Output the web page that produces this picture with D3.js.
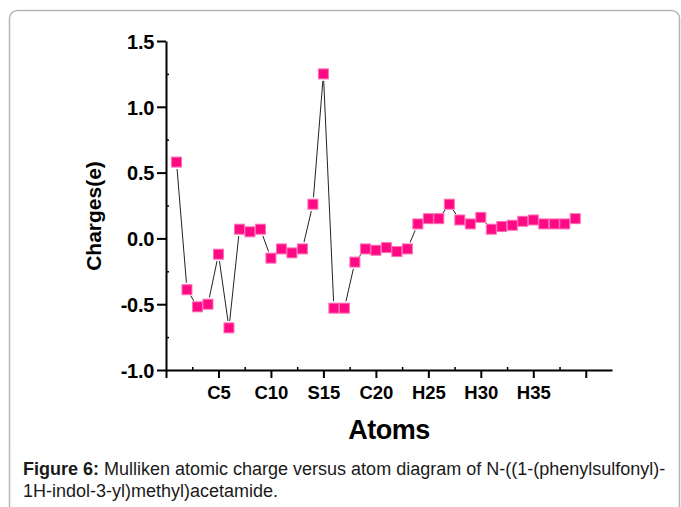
<!DOCTYPE html>
<html>
<head>
<meta charset="utf-8">
<script src="https://cdn.jsdelivr.net/npm/d3@7"></script>
<style>
  html, body { margin: 0; padding: 0; background: #fff; }
  svg { display: block; }
  text { font-family: "Liberation Sans", Arial, Helvetica, sans-serif; }
</style>
</head>
<body>
<svg id="chart" width="681" height="507"></svg>
<script>
// ---- data ----
const atomNumbers = [1,2,3,4,5,6,7,8,9,10,11,12,13,14,15,16,17,18,19,20,
                     21,22,23,24,25,26,27,28,29,30,31,32,33,34,35,36,37,38,39];
const charges = [0.58,-0.39,-0.52,-0.50,-0.12,-0.68,0.07,0.05,0.07,-0.15,
                 -0.08,-0.11,-0.08,0.26,1.25,-0.53,-0.53,-0.18,-0.08,-0.09,
                 -0.07,-0.10,-0.08,0.11,0.15,0.15,0.26,0.14,0.11,0.16,
                 0.07,0.09,0.10,0.13,0.14,0.11,0.11,0.11,0.15];
const xTickValues = [0,5,10,15,20,25,30,35,40];
const xTickLabels = ["","C5","C10","S15","C20","H25","H30","H35",""];
const xMinorValues = [2.5,7.5,12.5,17.5,22.5,27.5,32.5,37.5];
const yTickValues = [-1.0,-0.5,0.0,0.5,1.0,1.5];
const yTickLabels = ["-1.0","-0.5","0.0","0.5","1.0","1.5"];
const yMinorValues = [-0.75,-0.25,0.25,0.75,1.25];
const xTitle = "Atoms";
const yTitle = "Charges(e)";
const captionBold = "Figure 6:";
const captionLine1 = " Mulliken atomic charge versus atom diagram of N-((1-(phenylsulfonyl)-";
const captionLine2 = "1H-indol-3-yl)methyl)acetamide.";

// ---- layout ----
const svg = d3.select("#chart");
svg.append("rect").attr("width", 681).attr("height", 507).attr("fill", "#fff");

// frame with rounded top-left corner
svg.append("rect")
  .attr("x", 9.5).attr("y", 10.5).attr("width", 670).attr("height", 520)
  .attr("rx", 8).attr("ry", 8)
  .attr("fill", "none").attr("stroke", "#b4b4b4").attr("stroke-width", 1.5);

const x = d3.scaleLinear().domain([0, 42.5]).range([166, 612]);
const y = d3.scaleLinear().domain([-1.0, 1.5]).range([370, 41]);

// ---- axes ----
const xAxisG = svg.append("g").attr("transform", `translate(0,${y(-1.0)})`);
xAxisG.call(d3.axisBottom(x).tickValues(xTickValues).tickSize(8).tickSizeOuter(0)
  .tickFormat((d, i) => xTickLabels[i]));
xAxisG.select(".domain").attr("stroke", "#000").attr("stroke-width", 2);
xAxisG.selectAll(".tick line").attr("stroke", "#000").attr("stroke-width", 2);
xAxisG.selectAll(".tick text")
  .attr("y", 29).attr("dy", 0)
  .attr("fill", "#000")
  .style("font-size", "18.5px").style("font-weight", "bold")
  .style("font-family", "'Liberation Sans', Arial, sans-serif");

const xMinorG = svg.append("g").attr("transform", `translate(0,${y(-1.0)})`);
xMinorG.call(d3.axisBottom(x).tickValues(xMinorValues).tickSize(-3).tickFormat(""));
xMinorG.select(".domain").remove();
xMinorG.selectAll(".tick line").attr("stroke", "#000").attr("stroke-width", 1.5);

const yAxisG = svg.append("g").attr("transform", `translate(${x(0)},0)`);
yAxisG.call(d3.axisLeft(y).tickValues(yTickValues).tickSize(9).tickSizeOuter(0)
  .tickFormat((d, i) => yTickLabels[i]));
yAxisG.select(".domain").attr("stroke", "#000").attr("stroke-width", 2);
yAxisG.selectAll(".tick line").attr("stroke", "#000").attr("stroke-width", 2);
yAxisG.selectAll(".tick text")
  .attr("x", -12).attr("dy", "0.36em")
  .attr("fill", "#000")
  .style("font-size", "20px").style("font-weight", "bold")
  .style("letter-spacing", "-0.3px")
  .style("font-family", "'Liberation Sans', Arial, sans-serif");

const yMinorG = svg.append("g").attr("transform", `translate(${x(0)},0)`);
yMinorG.call(d3.axisLeft(y).tickValues(yMinorValues).tickSize(-3).tickFormat(""));
yMinorG.select(".domain").remove();
yMinorG.selectAll(".tick line").attr("stroke", "#000").attr("stroke-width", 1.5);

// ---- titles ----
svg.append("text")
  .attr("x", 389).attr("y", 439)
  .attr("text-anchor", "middle")
  .style("font-size", "27px").style("font-weight", "bold")
  .style("letter-spacing", "-0.5px")
  .text(xTitle);

svg.append("text")
  .attr("transform", `translate(101,216) rotate(-90)`)
  .attr("text-anchor", "middle")
  .style("font-size", "21px").style("font-weight", "bold")
  .text(yTitle);

// ---- line (with gaps near symbols) ----
const pts = atomNumbers.map((a, i) => [x(a), y(charges[i])]);
const gap = 7;
const segs = [];
for (let i = 0; i < pts.length - 1; i++) {
  const [x1, y1] = pts[i], [x2, y2] = pts[i + 1];
  const L = Math.hypot(x2 - x1, y2 - y1);
  if (L > 2 * gap + 1) {
    const ux = (x2 - x1) / L, uy = (y2 - y1) / L;
    segs.push([x1 + ux * gap, y1 + uy * gap, x2 - ux * gap, y2 - uy * gap]);
  }
}
svg.append("g").selectAll("line").data(segs).join("line")
  .attr("x1", d => d[0]).attr("y1", d => d[1])
  .attr("x2", d => d[2]).attr("y2", d => d[3])
  .attr("stroke", "#222").attr("stroke-width", 1);

// ---- markers ----
const ms = 10;
svg.append("g").selectAll("rect").data(atomNumbers).join("rect")
  .attr("x", (a) => x(a) - ms / 2)
  .attr("y", (a, i) => y(charges[i]) - ms / 2)
  .attr("width", ms).attr("height", ms)
  .attr("fill", "#ff0a84").attr("stroke", "#ff6fb5").attr("stroke-width", 1);

// ---- caption ----
const cap = svg.append("text").attr("x", 23).attr("y", 475)
  .style("font-size", "18px").attr("fill", "#1a1a1a");
cap.append("tspan").style("font-weight", "bold").text(captionBold);
cap.append("tspan").text(captionLine1);
svg.append("text").attr("x", 23).attr("y", 497)
  .style("font-size", "18px").attr("fill", "#1a1a1a")
  .text(captionLine2);
</script>
</body>
</html>
